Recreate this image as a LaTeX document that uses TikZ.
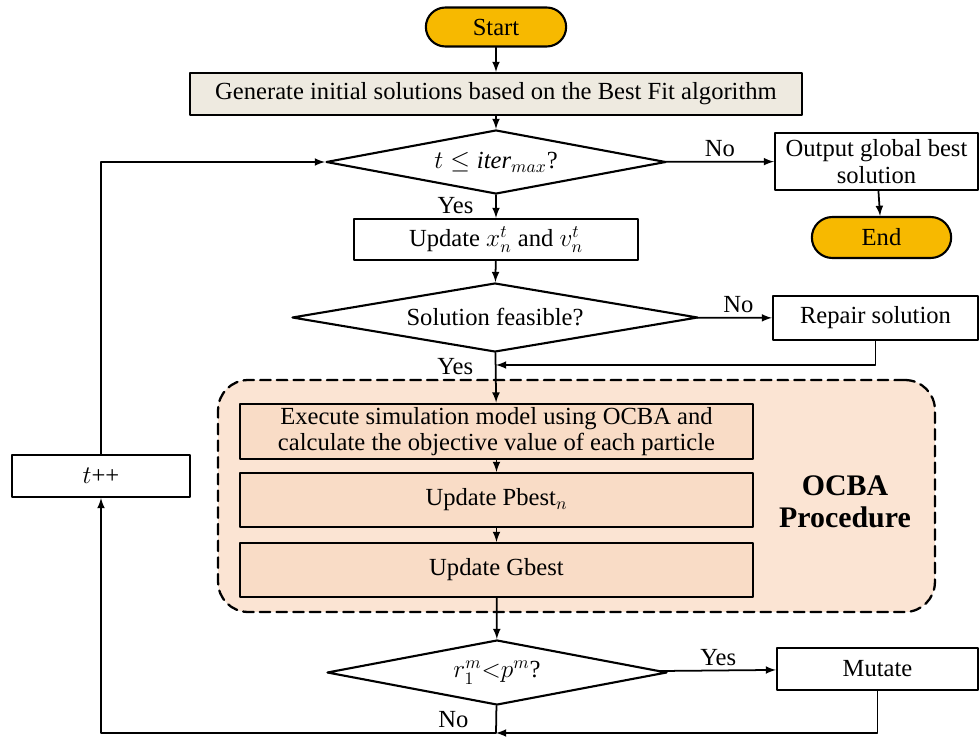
\documentclass[tikz,border=0pt]{standalone}
\usepackage{fontspec}
\setmainfont{Liberation Serif}
\usetikzlibrary{shapes.geometric,shapes.misc}
\definecolor{gold}{HTML}{F7B900}
\definecolor{beige}{HTML}{EEEAE0}
\definecolor{peach}{HTML}{FBE4D3}
\definecolor{peachbox}{HTML}{F9DCC6}

\begin{document}
\begin{tikzpicture}[x=0.02cm,y=-0.02cm,line cap=round,line join=round,>=latex,
    font=\fontsize{14}{15}\selectfont,
    box/.style={draw,line width=1.2pt,inner sep=2pt,align=center},
    term/.style={rounded rectangle,draw,line width=1.2pt,fill=gold},
    decide/.style={diamond,draw,line width=1.2pt,inner sep=0pt},
    flow/.style={->,line width=1pt}]
  \useasboundingbox (0,0) rectangle (980,740);
  % start and initialisation
  \node[term,minimum width=3.04cm,minimum height=0.78cm] (start) at (496,27) {Start};
  \node[box,fill=beige,minimum width=12.24cm,minimum height=0.84cm] (gen) at (496,94)
    {Generate initial solutions based on the Best Fit algorithm};
  \node[decide,aspect=5.3,minimum width=6.8cm,minimum height=1.28cm] (dec1) at (496,162)
    {$t \leq \mathit{iter}_{max}$?};
  \node[box,minimum width=4.06cm,minimum height=1.14cm] (out) at (876.5,161.5)
    {Output global best\\solution};
  \node[term,minimum width=3.02cm,minimum height=0.82cm] (endn) at (881.5,237.5) {End};
  \node[box,minimum width=5.68cm,minimum height=0.82cm] (upd) at (496,239.5)
    {Update $x_n^t$ and $v_n^t$};
  \node[decide,aspect=5.9,minimum width=8.12cm,minimum height=1.38cm] (dec2) at (495,317.5)
    {Solution feasible?};
  \node[box,minimum width=4.1cm,minimum height=0.88cm] (rep) at (875.5,318) {Repair solution};
  \coordinate (merge) at (496,365);
  % OCBA part
  \node[draw,fill=peach,line width=1.3pt,dash pattern=on 6pt off 3.5pt,rounded corners=0.6cm,
    minimum width=14.34cm,minimum height=4.64cm] (ocba) at (576.5,496) {};
  \node[box,fill=peachbox,minimum width=10.26cm,minimum height=1.06cm] (exe) at (496.5,431.5)
    {Execute simulation model using OCBA and\\calculate the objective value of each particle};
  \node[box,fill=peachbox,minimum width=10.26cm,minimum height=1.08cm] (pb) at (496.5,500)
    {Update Pbest$_n$};
  \node[box,fill=peachbox,minimum width=10.26cm,minimum height=1.08cm] (gb) at (496.5,570)
    {Update Gbest};
  \node[font=\fontsize{17}{18}\selectfont\bfseries,align=center] (ocbalab) at (845,502)
    {OCBA\\Procedure};
  % mutation and loop
  \node[decide,aspect=5.2,minimum width=6.8cm,minimum height=1.3cm] (dec3) at (497,672.5)
    {$r_1^m{<}p^m$?};
  \node[box,minimum width=4.02cm,minimum height=0.84cm] (mut) at (877.5,669) {Mutate};
  \node[box,minimum width=3.56cm,minimum height=0.84cm] (tpp) at (101,476) {$t$++};
  \coordinate (join) at (496,733);

  \draw[flow] (start) -- (gen);
  \draw[flow] (gen) -- (dec1);
  \draw[flow] (dec1) -- node[above=-1pt] {No} (out);
  \draw[flow] (out) -- (endn);
  \draw[flow] (dec1) -- node[left=9pt,pos=0.45] {Yes} (upd);
  \draw[flow] (upd) -- (dec2);
  \draw[flow] (dec2) -- node[above=-1pt,pos=0.55] {No} (rep);
  \draw[flow] (dec2) -- node[left=9pt,pos=0.27] {Yes} (exe);
  \draw[flow] (rep) |- (merge);
  \draw[flow] (exe) -- (pb);
  \draw[flow] (pb) -- (gb);
  \draw[flow] (gb) -- (dec3);
  \draw[flow] (dec3) -- node[above=-1pt] {Yes} (mut);
  \draw[flow] (mut) |- (join);
  \draw[flow] (dec3) -- node[left=12pt,pos=0.5] {No} (join) -| (tpp);
  \draw[flow] (tpp) |- (dec1);
\end{tikzpicture}
\end{document}
